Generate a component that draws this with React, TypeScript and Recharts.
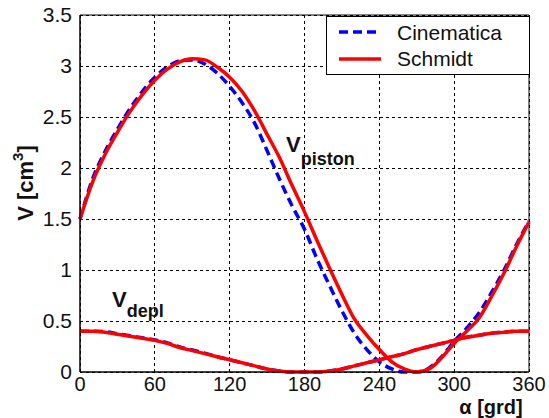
import {
  LineChart,
  Line,
  XAxis,
  YAxis,
  CartesianGrid,
  ReferenceArea,
  ReferenceDot,
  Legend,
} from "recharts";

const angles = [
  0, 10, 20, 30, 40, 50, 60, 70, 80, 90, 100, 110, 120, 130, 140, 150, 160, 170, 180,
  190, 200, 210, 220, 230, 240, 250, 260, 270, 280, 290, 300, 310, 320, 330, 340, 350, 360,
];

// Cinematica (blue dashed)
const cinPiston = [
  1.5, 1.89, 2.16, 2.38, 2.58, 2.75, 2.89, 2.99, 3.05, 3.06, 3.02, 2.93, 2.8, 2.64, 2.44, 2.17, 1.89, 1.63, 1.4,
  1.11, 0.85, 0.6, 0.38, 0.22, 0.1, 0.03, 0.0, 0.0, 0.04, 0.15, 0.3, 0.43, 0.58, 0.78, 1.0, 1.25, 1.48,
];
const cinDepl = [
  0.4, 0.4, 0.395, 0.375, 0.355, 0.335, 0.315, 0.285, 0.245, 0.215, 0.185, 0.15, 0.12, 0.09, 0.06, 0.03, 0.01, 0.0, 0.0,
  0.0, 0.01, 0.03, 0.06, 0.09, 0.12, 0.15, 0.18, 0.22, 0.25, 0.28, 0.31, 0.34, 0.36, 0.38, 0.39, 0.4, 0.4,
];

// Schmidt (red solid)
const schPiston = [
  1.5, 1.86, 2.13, 2.35, 2.55, 2.72, 2.86, 2.97, 3.04, 3.07, 3.06, 2.99, 2.89, 2.75, 2.56, 2.33, 2.1, 1.83, 1.57,
  1.29, 1.02, 0.76, 0.52, 0.36, 0.22, 0.1, 0.03, 0.0, 0.03, 0.14, 0.28, 0.4, 0.53, 0.74, 0.97, 1.23, 1.47,
];
const schDepl = [
  0.4, 0.4, 0.39, 0.37, 0.35, 0.33, 0.31, 0.28, 0.24, 0.21, 0.18, 0.15, 0.12, 0.09, 0.06, 0.03, 0.01, 0.0, 0.0,
  0.0, 0.01, 0.03, 0.06, 0.09, 0.12, 0.15, 0.18, 0.22, 0.25, 0.28, 0.31, 0.34, 0.36, 0.38, 0.39, 0.4, 0.4,
];

const xTicks = [0, 60, 120, 180, 240, 300, 360];
const yTicks = [0, 0.5, 1, 1.5, 2, 2.5, 3, 3.5];
const seriesNames = ["Cinematica", "Schmidt"];

const data = angles.map((angle, i) => ({
  angle,
  cinPiston: cinPiston[i],
  cinDepl: cinDepl[i],
  schPiston: schPiston[i],
  schDepl: schDepl[i],
}));

const FONT = "'Liberation Sans', Arial, sans-serif";
const BLUE = "#0000ff";
const RED = "#ff0000";

function LegendBox() {
  return (
    <div
      style={{
        width: 204,
        height: 59,
        border: "1px solid #000",
        background: "#fff",
        boxSizing: "border-box",
      }}
    >
      <svg width={202} height={57} style={{ display: "block" }}>
        <line x1={12} x2={54} y1={15} y2={15} stroke={BLUE} strokeWidth={3.5} strokeDasharray="9 5" />
        <line x1={12} x2={54} y1={42} y2={42} stroke={RED} strokeWidth={3.5} />
        <text x={70} y={23} fontSize={21} fontFamily={FONT} fill="#111">
          {seriesNames[0]}
        </text>
        <text x={70} y={49} fontSize={21} fontFamily={FONT} fill="#111">
          {seriesNames[1]}
        </text>
      </svg>
    </div>
  );
}

function SubLabel(main: string, sub: string, subDy: number) {
  return (props: any) => {
    const { viewBox } = props;
    return (
      <text x={viewBox.x} y={viewBox.y} fontFamily={FONT} fontWeight="bold" fill="#111">
        <tspan fontSize={22}>{main}</tspan>
        <tspan fontSize={18} dy={subDy}>
          {sub}
        </tspan>
      </text>
    );
  };
}

export default function App() {
  return (
    <div style={{ position: "absolute", left: 0, top: 0, background: "#fff" }}>
      <LineChart width={549} height={418} data={data} margin={{ top: 15, right: 20, left: 0, bottom: 0 }}>
        <CartesianGrid stroke="#000" strokeDasharray="3 3" strokeWidth={1} shapeRendering="crispEdges" />
        <XAxis
          dataKey="angle"
          type="number"
          domain={[0, 360]}
          ticks={xTicks}
          interval={0}
          height={46}
          tickSize={0}
          tickMargin={5}
          axisLine={{ stroke: "#000" }}
          tickLine={false}
          tick={{ fill: "#111", fontSize: 20, fontFamily: FONT }}
          label={{
            content: () => (
              <text
                x={491}
                y={414}
                textAnchor="middle"
                fontSize={20}
                fontWeight="bold"
                fontFamily={FONT}
                fill="#111"
              >
                α [grd]
              </text>
            ),
          }}
        />
        <YAxis
          type="number"
          domain={[0, 3.5]}
          ticks={yTicks}
          interval={0}
          width={80}
          tickSize={0}
          tickMargin={8}
          axisLine={{ stroke: "#000" }}
          tickLine={false}
          tick={{ fill: "#111", fontSize: 21, fontFamily: FONT }}
          label={{
            content: () => (
              <text
                transform="translate(33,183) rotate(-90)"
                textAnchor="middle"
                fontSize={22}
                fontWeight="bold"
                fontFamily={FONT}
                fill="#111"
              >
                V [cm
                <tspan dy={-10} fontSize={15}>
                  3
                </tspan>
                <tspan dy={10}>]</tspan>
              </text>
            ),
          }}
        />
        <ReferenceArea x1={0} x2={360} y1={0} y2={3.5} fill="none" stroke="#000" strokeWidth={1} />
        <Line
          type="monotone"
          dataKey="cinDepl"
          stroke={BLUE}
          strokeWidth={3.5}
          strokeDasharray="9 5"
          dot={false}
          isAnimationActive={false}
        />
        <Line
          type="monotone"
          dataKey="cinPiston"
          stroke={BLUE}
          strokeWidth={3.5}
          strokeDasharray="9 5"
          dot={false}
          isAnimationActive={false}
        />
        <Line type="monotone" dataKey="schDepl" stroke={RED} strokeWidth={3.5} dot={false} isAnimationActive={false} />
        <Line type="monotone" dataKey="schPiston" stroke={RED} strokeWidth={3.5} dot={false} isAnimationActive={false} />
        <ReferenceDot x={166} y={2.15} r={1} fill="none" stroke="none" label={{ content: SubLabel("V", "piston", 13) }} />
        <ReferenceDot x={26.5} y={0.63} r={1} fill="none" stroke="none" label={{ content: SubLabel("V", "depl", 10) }} />
        <Legend
          layout="vertical"
          align="center"
          verticalAlign="middle"
          wrapperStyle={{ left: 326, top: 16, width: 204, height: 59 }}
          content={() => <LegendBox />}
        />
      </LineChart>
    </div>
  );
}
